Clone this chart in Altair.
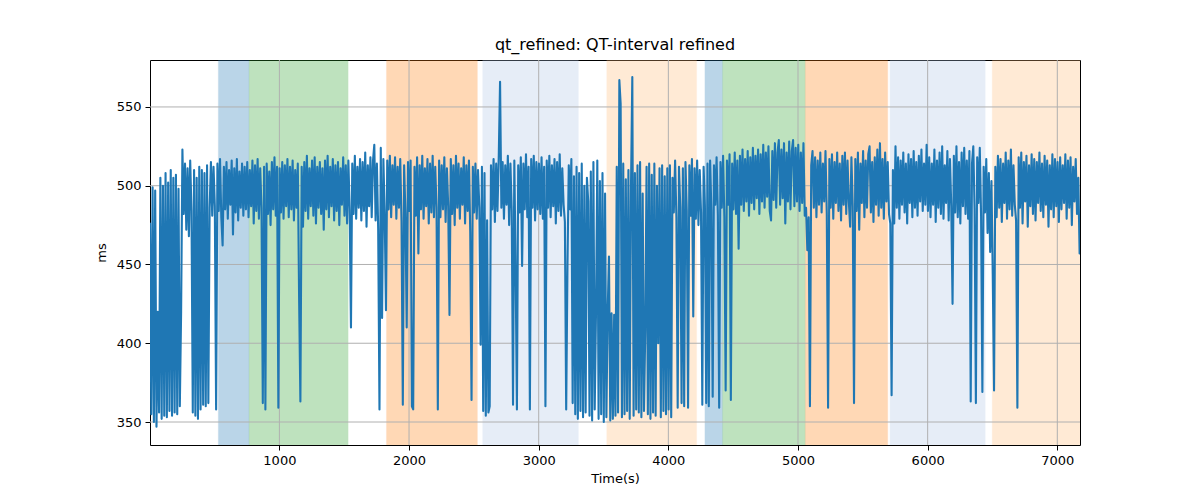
import altair as alt
import pandas as pd

# ---- QT values (ms), one sample every 10 s ----
qt_0000 = [476, 355, 499, 350, 497, 347, 420, 356, 505, 352, 500, 354, 508, 353, 502, 357, 510, 354, 505, 356,
           507, 355, 498, 360, 420, 523, 482, 514, 472, 511, 468, 516, 484, 356, 510, 354, 505, 352, 512, 358,
           510, 361, 508, 360, 513, 362, 486, 515, 481, 512, 487, 358, 514, 484, 517, 480, 462, 512, 485, 515,
           479, 510, 488, 516, 469, 511, 483, 517, 478, 509, 486, 514, 481, 512, 485, 515, 480, 510, 487, 516,
           476, 513, 484, 517, 479, 511, 486, 362, 512, 358, 514, 482, 509, 475, 515, 485, 518, 481, 512, 359]
qt_1000 = [511, 483, 515, 479, 513, 487, 517, 480, 512, 485, 516, 478, 510, 486, 514, 429, 363, 512, 474, 515,
           484, 519, 479, 511, 487, 516, 481, 518, 476, 512, 486, 515, 482, 511, 472, 516, 485, 519, 480, 512,
           487, 517, 478, 513, 484, 515, 475, 511, 488, 518, 481, 513, 476, 516, 485, 410, 514, 482, 519, 479,
           512, 486, 517, 478, 515, 484, 521, 474, 513, 487, 518, 480, 516, 526, 478, 514, 472, 358, 524, 416,
           517, 483, 421, 516, 485, 519, 480, 513, 488, 518, 479, 512, 486, 517, 477, 361, 513, 482, 410, 515]
qt_2000 = [484, 516, 360, 358, 512, 481, 518, 457, 513, 485, 519, 479, 511, 487, 517, 476, 514, 483, 519, 480,
           512, 486, 358, 516, 480, 513, 485, 518, 477, 511, 487, 418, 517, 482, 513, 475, 519, 486, 514, 479,
           511, 488, 518, 476, 513, 484, 516, 470, 364, 512, 483, 514, 479, 510, 486, 399, 512, 357, 508, 354,
           478, 356, 360, 513, 485, 517, 477, 514, 484, 519, 566, 486, 515, 479, 513, 488, 519, 475, 514, 484,
           361, 516, 447, 358, 513, 483, 518, 449, 514, 485, 520, 480, 512, 358, 517, 486, 519, 478, 515, 485]
qt_3000 = [514, 482, 518, 479, 512, 360, 516, 486, 519, 480, 513, 487, 517, 476, 515, 484, 520, 481, 511, 488,
           477, 358, 450, 513, 485, 517, 362, 506, 355, 512, 352, 508, 357, 514, 353, 500, 356, 505, 490, 354,
           509, 351, 515, 358, 420, 516, 352, 503, 355, 508, 350, 495, 353, 420, 455, 351, 419, 352, 418, 354,
           512, 356, 567, 552, 353, 514, 355, 504, 357, 510, 352, 500, 569, 354, 508, 358, 513, 356, 515, 353,
           495, 357, 408, 512, 355, 514, 352, 507, 356, 514, 354, 500, 400, 511, 353, 513, 357, 506, 355, 511]
qt_4000 = [358, 513, 353, 505, 483, 516, 480, 359, 512, 486, 362, 511, 360, 515, 484, 359, 513, 481, 517, 417,
           511, 479, 516, 475, 510, 483, 361, 512, 487, 362, 514, 360, 516, 484, 366, 513, 488, 518, 481, 359,
           515, 486, 519, 480, 370, 516, 488, 520, 364, 514, 485, 521, 482, 516, 460, 519, 488, 523, 484, 517,
           490, 522, 481, 518, 489, 524, 485, 519, 492, 523, 482, 520, 490, 526, 486, 521, 493, 525, 484, 478,
           522, 491, 527, 486, 521, 529, 488, 523, 492, 527, 476, 521, 490, 528, 485, 522, 529, 487, 524, 490]
qt_5000 = [526, 484, 521, 489, 527, 481, 486, 459, 480, 360, 513, 522, 486, 518, 480, 516, 488, 521, 483, 514,
           490, 522, 482, 359, 517, 486, 520, 479, 515, 489, 521, 484, 514, 478, 519, 488, 521, 482, 516, 490,
           474, 518, 487, 362, 517, 484, 521, 472, 514, 489, 522, 480, 516, 486, 520, 525, 483, 515, 477, 518,
           488, 523, 481, 527, 486, 517, 479, 521, 490, 515, 482, 476, 367, 510, 476, 525, 486, 518, 479, 516,
           488, 521, 483, 514, 476, 520, 489, 517, 480, 522, 486, 515, 481, 519, 490, 523, 484, 514, 488, 526]
qt_6000 = [484, 518, 480, 514, 488, 523, 477, 516, 486, 521, 482, 525, 479, 513, 489, 522, 478, 517, 487, 425,
           519, 483, 525, 480, 515, 476, 521, 487, 524, 482, 516, 479, 522, 363, 514, 525, 485, 362, 518, 489,
           524, 481, 369, 512, 483, 517, 470, 508, 458, 503, 444, 370, 512, 480, 519, 486, 517, 477, 514, 489,
           521, 479, 516, 485, 523, 481, 513, 488, 478, 359, 518, 486, 521, 476, 515, 490, 519, 474, 513, 487,
           520, 482, 517, 478, 515, 489, 521, 484, 514, 480, 519, 488, 516, 474, 513, 485, 520, 480, 517, 487]
qt_7000 = [515, 477, 518, 485, 513, 489, 520, 479, 516, 486, 518, 475, 512, 490, 517, 482, 505, 457]

segments = [qt_0000, qt_1000, qt_2000, qt_3000, qt_4000, qt_5000, qt_6000, qt_7000]
seg_starts = [2, 1002, 2002, 3002, 4002, 5002, 6002, 7002]
sample_step = 10

# ---- shaded stages ----
span_start = [529, 766, 1826, 2568, 3525, 4282, 4418, 5056, 5710, 6498]
span_end = [766, 1530, 2527, 3306, 4218, 4418, 5056, 5692, 6444, 7175]
span_color = ["#1f77b4", "#2ca02c", "#ff7f0e", "#aec7e8", "#ffbb78",
              "#1f77b4", "#2ca02c", "#ff7f0e", "#aec7e8", "#ffbb78"]

x_ticks = [1000, 2000, 3000, 4000, 5000, 6000, 7000]
y_ticks = [350, 400, 450, 500, 550]
x_domain = [2, 7175]
y_domain = [335.4, 579.8]

rows = []
for start, seg in zip(seg_starts, segments):
    for j, v in enumerate(seg):
        rows.append({"t": start + sample_step * j, "qt": v})
df = pd.DataFrame(rows)
spans = pd.DataFrame({"start": span_start, "end": span_end, "color": span_color})
xg = pd.DataFrame({"x": x_ticks})
yg = pd.DataFrame({"y": y_ticks})

W, H = 930, 385
FONT = "DejaVu Sans"

xscale = alt.Scale(domain=x_domain, nice=False, zero=False)
yscale = alt.Scale(domain=y_domain, nice=False, zero=False)

x_axis = alt.Axis(values=x_ticks, title="Time(s)", grid=False, domain=False, format="d",
                  labelFontSize=13, titleFontSize=13, labelFont=FONT, titleFont=FONT,
                  tickSize=5, tickColor="black", labelColor="black", titleColor="black",
                  labelPadding=4, titlePadding=5, titleFontWeight="normal", labelFlush=False)
y_axis = alt.Axis(values=y_ticks, title="ms", grid=False, domain=False, format="d",
                  labelFontSize=13, titleFontSize=13, labelFont=FONT, titleFont=FONT,
                  tickSize=5, tickColor="black", labelColor="black", titleColor="black",
                  labelPadding=4, titlePadding=8, titleFontWeight="normal", labelFlush=False)

span_layer = alt.Chart(spans).mark_rect(opacity=0.3, strokeOpacity=0.3, strokeWidth=1, clip=True).encode(
    x=alt.X("start:Q", scale=xscale, axis=x_axis),
    x2="end:Q",
    y=alt.value(0),
    y2=alt.value(H),
    color=alt.Color("color:N", scale=None),
    stroke=alt.Color("color:N", scale=None),
)

xgrid = alt.Chart(xg).mark_rule(color="#b0b0b0", strokeWidth=1).encode(
    x=alt.X("x:Q", scale=xscale, axis=x_axis)
)
ygrid = alt.Chart(yg).mark_rule(color="#b0b0b0", strokeWidth=1).encode(
    y=alt.Y("y:Q", scale=yscale, axis=y_axis)
)

line = alt.Chart(df).mark_line(color="#1f77b4", strokeWidth=2.1, strokeJoin="round",
                               strokeCap="round", clip=True).encode(
    x=alt.X("t:Q", scale=xscale, axis=x_axis),
    y=alt.Y("qt:Q", scale=yscale, axis=y_axis),
)

chart = alt.layer(span_layer, xgrid, ygrid, line).properties(
    width=W, height=H,
    title=alt.TitleParams("qt_refined: QT-interval refined", font=FONT, fontSize=16,
                          fontWeight="normal", color="black", anchor="middle", frame="group", offset=7),
    padding={"left": 142, "top": 52, "right": 110, "bottom": 40},
    autosize=alt.AutoSizeParams(type="none"),
    background="white",
).configure_view(stroke="black", strokeWidth=1)

chart.save("out.html", embed_options={"renderer": "svg", "actions": False})
